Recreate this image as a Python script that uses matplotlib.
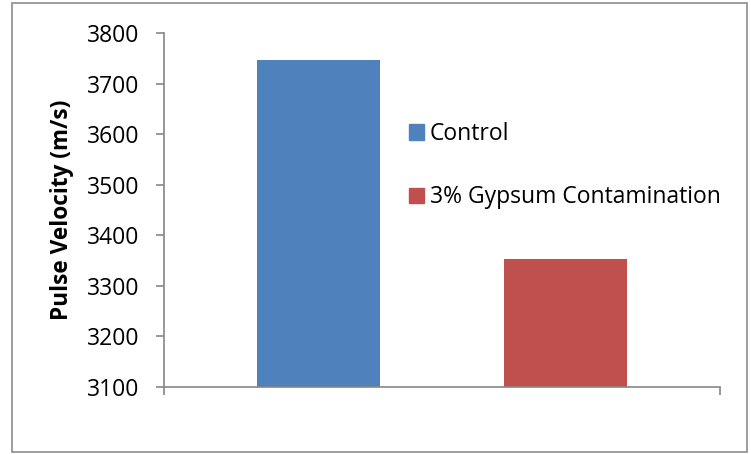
import matplotlib
matplotlib.use("Agg")
import matplotlib.pyplot as plt
from matplotlib.patches import Rectangle

categories = ["Control", "3% Gypsum Contamination"]
values = [3746, 3353]
colors = ["#4F81BD", "#C0504D"]
yticks = [3100, 3200, 3300, 3400, 3500, 3600, 3700, 3800]
ylabel = "Pulse Velocity (m/s)"

plt.rcParams['font.family'] = ['Open Sans', 'DejaVu Sans']

W, H = 751, 454
fig = plt.figure(figsize=(W / 100, H / 100), dpi=100)
fig.patch.set_facecolor("white")
fig.add_artist(Rectangle((12 / W, 1 - 452 / H), (747 - 12) / W, (452 - 3) / H,
                         transform=fig.transFigure, fill=False,
                         edgecolor="#8c8c8c", linewidth=1.2))

ax = fig.add_axes([164 / W, 1 - 387 / H, (720 - 164) / W, (387 - 33) / H])
xpos = list(range(len(categories)))
ax.bar(xpos, values, width=0.5, color=colors)
ax.set_xlim(-0.625, 1.625)
ax.set_ylim(yticks[0], yticks[-1])
ax.set_yticks(yticks)
ax.set_yticklabels([str(t) for t in yticks], fontsize=16.5)
ax.set_xticks([-0.625, 1.625])
ax.set_xticklabels(["", ""])
for s in ["top", "right"]:
    ax.spines[s].set_visible(False)
for s in ["left", "bottom"]:
    ax.spines[s].set_color("#868686")
    ax.spines[s].set_linewidth(1.2)
ax.tick_params(axis="both", direction="out", length=5.5, width=1.2, color="#868686")
ax.tick_params(axis="y", pad=12)
ax.set_ylabel(ylabel, fontsize=16.3, fontweight="bold")
ax.yaxis.set_label_coords(-0.162, 0.5)

handles = [Rectangle((0, 0), 1, 1, color=c) for c in colors]
ax.legend(handles, categories, loc="upper left",
          bbox_to_anchor=(409 / W, 1 - 122 / H), bbox_transform=fig.transFigure,
          frameon=False, fontsize=16.5, handlelength=0.65, handleheight=0.65,
          handletextpad=0.27, labelspacing=1.72, borderpad=0, borderaxespad=0)

fig.savefig("out.png", dpi=100)
